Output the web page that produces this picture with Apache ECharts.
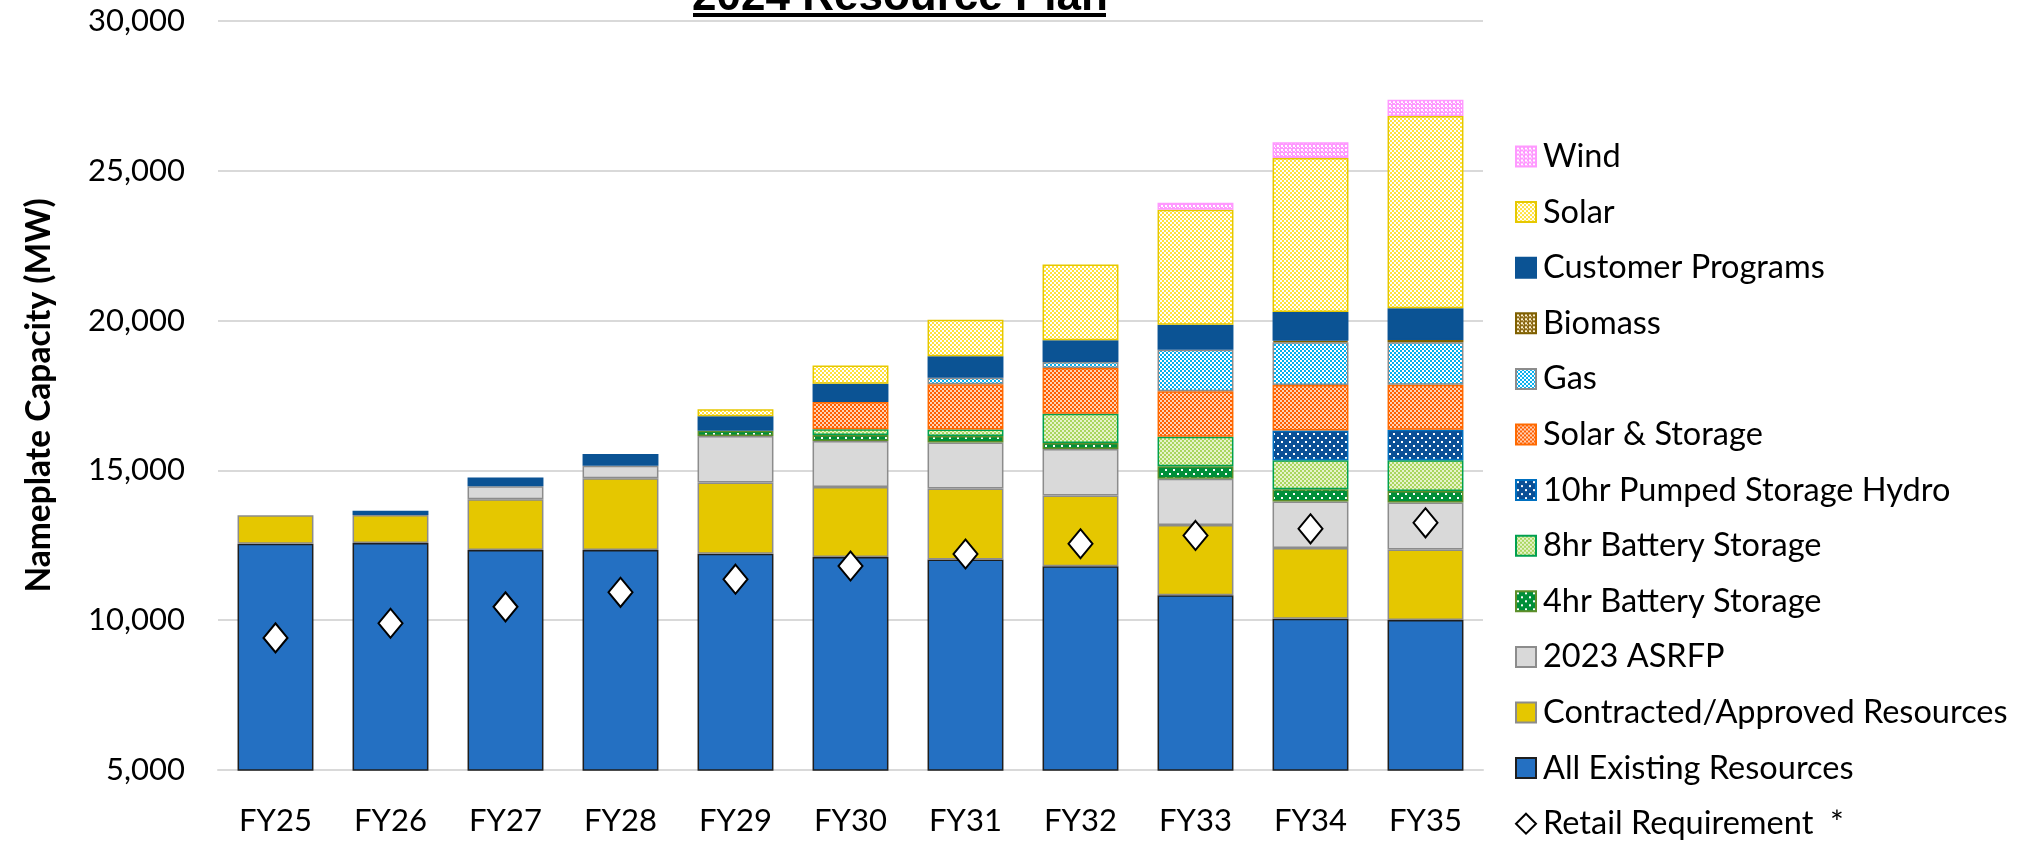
<!DOCTYPE html>
<html>
<head>
<meta charset="utf-8">
<title>2024 Resource Plan</title>
<script src="https://cdn.jsdelivr.net/npm/echarts@6/dist/echarts.min.js"></script>
<style>
  html, body { margin: 0; padding: 0; background: #fff; }
  #chart { width: 2026px; height: 844px; }
</style>
</head>
<body>
<div id="chart"></div>
<script>
const categories = ['FY25', 'FY26', 'FY27', 'FY28', 'FY29', 'FY30', 'FY31', 'FY32', 'FY33', 'FY34', 'FY35'];

// MW added by each resource type, bottom of the stack first
const existingResources  = [12550, 12580, 12345, 12345, 12220, 12110, 12030, 11800, 10830, 10050, 10010];
const contractedApproved = [950, 930, 1690, 2390, 2380, 2340, 2370, 2365, 2350, 2360, 2350];
const asrfp2023          = [0, 0, 440, 420, 1545, 1530, 1530, 1550, 1540, 1550, 1565];
const battery4hr         = [0, 0, 0, 0, 175, 200, 220, 200, 420, 410, 390];
const battery8hr         = [0, 0, 0, 0, 0, 190, 215, 980, 980, 970, 1025];
const pumpedHydro10hr    = [0, 0, 0, 0, 0, 0, 0, 0, 0, 990, 1015];
const solarStorage       = [0, 0, 0, 0, 0, 910, 1510, 1520, 1520, 1520, 1505];
const gas                = [0, 0, 0, 0, 0, 0, 215, 200, 1390, 1430, 1415];
const biomass            = [0, 0, 0, 0, 0, 0, 0, 0, 0, 50, 80];
const customerPrograms   = [0, 140, 285, 390, 490, 610, 720, 730, 835, 960, 1055];
const solar              = [0, 0, 0, 0, 230, 610, 1220, 2530, 3835, 5140, 6420];
const wind               = [0, 0, 0, 0, 0, 0, 0, 0, 230, 520, 540];

const retailRequirement  = [9410, 9900, 10445, 10930, 11370, 11810, 12210, 12550, 12830, 13050, 13250];

const FONT = 'Lato, "Noto Sans", sans-serif';

// small canvas tiles used as hatch fills
function checker(c1, c2, size) {
  const cv = document.createElement('canvas');
  cv.width = cv.height = size * 2;
  const ctx = cv.getContext('2d');
  ctx.fillStyle = c1;
  ctx.fillRect(0, 0, size * 2, size * 2);
  ctx.fillStyle = c2;
  ctx.fillRect(0, 0, size, size);
  ctx.fillRect(size, size, size, size);
  return { image: cv, repeat: 'repeat' };
}
function dots(bg, dot, tile, d) {
  const cv = document.createElement('canvas');
  cv.width = cv.height = tile;
  const ctx = cv.getContext('2d');
  ctx.fillStyle = bg;
  ctx.fillRect(0, 0, tile, tile);
  ctx.fillStyle = dot;
  ctx.fillRect(1, 1, d, d);
  ctx.fillRect(tile / 2 + 1, tile / 2 + 1, d, d);
  return { image: cv, repeat: 'repeat' };
}

function barSeries(name, data, color, borderColor) {
  return {
    name: name,
    type: 'bar',
    stack: 'capacity',
    barCategoryGap: '34%',
    data: data.map(v => (v ? v : null)),
    itemStyle: { color: color, borderColor: borderColor, borderWidth: 1.5 }
  };
}

const series = [
  barSeries('All Existing Resources', existingResources, '#2470C2', '#1E1E1E'),
  barSeries('Contracted/Approved Resources', contractedApproved, '#E5C700', '#8C8C8C'),
  barSeries('2023 ASRFP', asrfp2023, '#D9D9D9', '#8C8C8C'),
  barSeries('4hr Battery Storage', battery4hr, dots('#008F39', '#FFFFFF', 8, 2), '#5E8E2A'),
  barSeries('8hr Battery Storage', battery8hr, checker('#A9D65E', '#E6F3CC', 2), '#00A050'),
  barSeries('10hr Pumped Storage Hydro', pumpedHydro10hr, dots('#0A4F96', '#FFFFFF', 8, 2), '#0070C0'),
  barSeries('Solar & Storage', solarStorage, checker('#FF5F00', '#FFD2B4', 2), '#FF6A00'),
  barSeries('Gas', gas, checker('#00AEEF', '#FFFFFF', 2), '#8C8C8C'),
  barSeries('Biomass', biomass, dots('#8B6914', '#FFF3D0', 4, 2), '#7F6000'),
  barSeries('Customer Programs', customerPrograms, '#0B5394', '#0B5394'),
  barSeries('Solar', solar, checker('#FFE13C', '#FFFFFF', 2), '#E6C800'),
  barSeries('Wind', wind, dots('#FF99FF', '#FFFFFF', 4, 2), '#FF99FF'),
  {
    name: 'Retail Requirement',
    type: 'scatter',
    data: retailRequirement,
    symbol: 'diamond',
    symbolSize: [24, 29],
    z: 10,
    itemStyle: { color: '#FFFFFF', borderColor: '#000000', borderWidth: 2, opacity: 1 }
  }
];

const legendOrder = series.filter(s => s.type === 'bar').map(s => s.name).reverse();

const option = {
  animation: false,
  backgroundColor: '#FFFFFF',
  grid: { left: 218, right: 543, top: 21, bottom: 74 },
  graphic: [
    {
      type: 'text',
      x: 900,
      y: 20,
      style: {
        text: '2024 Resource Plan',
        font: 'bold 44px "Liberation Sans", Arial, sans-serif',
        fill: '#000',
        align: 'center',
        verticalAlign: 'bottom'
      }
    },
    { type: 'rect', shape: { x: 693, y: 13, width: 413, height: 4 }, style: { fill: '#000' } }
  ],
  legend: {
    orient: 'vertical',
    left: 1515,
    top: 140,
    height: 800,
    padding: 0,
    itemWidth: 20,
    itemHeight: 20,
    itemGap: 22.6,
    icon: 'rect',
    data: legendOrder.concat([{ name: 'Retail Requirement', icon: 'diamond' }]),
    formatter: name => (name === 'Retail Requirement' ? 'Retail Requirement  *' : name),
    textStyle: { fontFamily: FONT, fontSize: 32.5, lineHeight: 33, color: '#000', padding: [0, 0, 0, 2] }
  },
  xAxis: {
    type: 'category',
    data: categories,
    axisTick: { show: false },
    axisLine: { lineStyle: { color: '#D9D9D9', width: 2 } },
    axisLabel: { fontFamily: FONT, fontSize: 31, color: '#000', margin: 35 }
  },
  yAxis: {
    type: 'value',
    min: 5000,
    max: 30000,
    interval: 5000,
    name: 'Nameplate Capacity (MW)',
    nameLocation: 'middle',
    nameGap: 162,
    nameTextStyle: { fontFamily: FONT, fontSize: 33.5, fontWeight: 'bold', color: '#000' },
    axisLine: { show: false },
    axisTick: { show: false },
    splitLine: { lineStyle: { color: '#D9D9D9', width: 2 } },
    axisLabel: {
      fontFamily: FONT, fontSize: 31, color: '#000', margin: 33,
      formatter: v => v.toLocaleString('en-US')
    }
  },
  series: series
};

const chart = echarts.init(document.getElementById('chart'));
chart.setOption(option);
</script>
</body>
</html>
